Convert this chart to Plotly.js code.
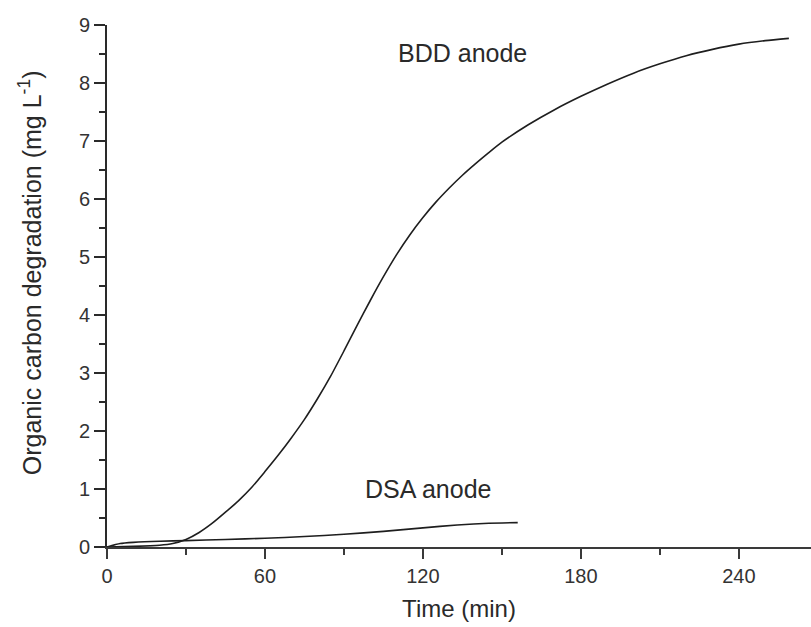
<!DOCTYPE html>
<html>
<head>
<meta charset="utf-8">
<script src="https://cdn.plot.ly/plotly-3.0.1.min.js"></script>
<style>html,body{margin:0;padding:0;background:#fff;}#chart{width:811px;height:627px;}</style>
</head>
<body>
<div id="chart"></div>
<script>
// BDD anode series (time in min, organic carbon degradation in mg/L)
const bddTime = [0, 10, 20, 25, 30, 35, 40, 45, 50, 55, 60, 65, 70, 75, 80, 85, 90, 95, 100, 105, 110, 115, 120, 125, 130, 135, 140, 145, 150, 160, 170, 180, 190, 200, 210, 220, 230, 240, 250, 259];
const bddValue = [0, 0.01, 0.03, 0.06, 0.13, 0.25, 0.41, 0.6, 0.8, 1.03, 1.3, 1.58, 1.88, 2.2, 2.56, 2.95, 3.38, 3.82, 4.25, 4.66, 5.04, 5.38, 5.68, 5.95, 6.19, 6.41, 6.61, 6.8, 6.98, 7.28, 7.54, 7.77, 7.98, 8.17, 8.33, 8.47, 8.58, 8.67, 8.73, 8.77];
// DSA anode series
const dsaTime = [0, 5, 10, 20, 30, 45, 60, 75, 90, 105, 120, 133, 145, 156];
const dsaValue = [0, 0.06, 0.08, 0.1, 0.11, 0.13, 0.15, 0.18, 0.22, 0.27, 0.33, 0.38, 0.41, 0.42];
// labels
const seriesLabels = ["BDD anode", "DSA anode"];
const labelPos = [[135, 8.52], [122, 1.0]];
const xTicks = [0, 60, 120, 180, 240];
const yTicks = [0, 1, 2, 3, 4, 5, 6, 7, 8, 9];
const xTitle = "Time (min)";
const yTitle = "Organic carbon degradation (mg L<sup>-1</sup>)";

const font = "Liberation Sans, Arial, sans-serif";
const lineStyle = {color: "#1e1e1e", width: 1.6, shape: "spline", smoothing: 0.6};

const traces = [
  {x: bddTime, y: bddValue, mode: "lines", line: lineStyle, name: seriesLabels[0], hoverinfo: "skip"},
  {x: dsaTime, y: dsaValue, mode: "lines", line: lineStyle, name: seriesLabels[1], hoverinfo: "skip"}
];

const annotations = seriesLabels.map((t, i) => ({
  x: labelPos[i][0], y: labelPos[i][1], xref: "x", yref: "y",
  text: t, showarrow: false, font: {size: 25, color: "#2a2a2a"},
  xanchor: "center", yanchor: "middle"
}));
annotations.push({
  xref: "paper", yref: "paper", x: -0.109, y: 0.525,
  text: yTitle, textangle: -90, showarrow: false,
  font: {size: 25, color: "#2a2a2a"}, xanchor: "center", yanchor: "middle"
});

const layout = {
  width: 811, height: 627,
  margin: {l: 107, r: 0, t: 25, b: 80},
  paper_bgcolor: "#fff", plot_bgcolor: "#fff",
  showlegend: false,
  font: {family: font, color: "#2a2a2a", size: 20},
  xaxis: {
    range: [0, 267.4], showgrid: false, zeroline: false,
    showline: true, linecolor: "#3a3a3a", linewidth: 2,
    ticks: "outside", ticklen: 10, tickwidth: 1.5, tickcolor: "#3a3a3a",
    tickvals: xTicks, ticktext: xTicks.map(String),
    tickfont: {size: 20, color: "#333"},
    minor: {dtick: 30, tick0: 0, ticks: "outside", ticklen: 6, tickwidth: 1.3, tickcolor: "#3a3a3a", showgrid: false},
    title: {text: xTitle, font: {size: 24, color: "#2a2a2a"}, standoff: 14}
  },
  yaxis: {
    range: [0, 9], showgrid: false, zeroline: false,
    showline: true, linecolor: "#2a2a2a", linewidth: 2,
    ticks: "outside", ticklen: 11, tickwidth: 1.5, tickcolor: "#2a2a2a",
    tickvals: yTicks, ticktext: yTicks.map(String),
    tickfont: {size: 20, color: "#333"},
    minor: {dtick: 0.5, tick0: 0, ticks: "outside", ticklen: 6, tickwidth: 1.3, tickcolor: "#2a2a2a", showgrid: false}
  },
  annotations: annotations
};

Plotly.newPlot("chart", traces, layout, {staticPlot: true, displayModeBar: false});
</script>
</body>
</html>
